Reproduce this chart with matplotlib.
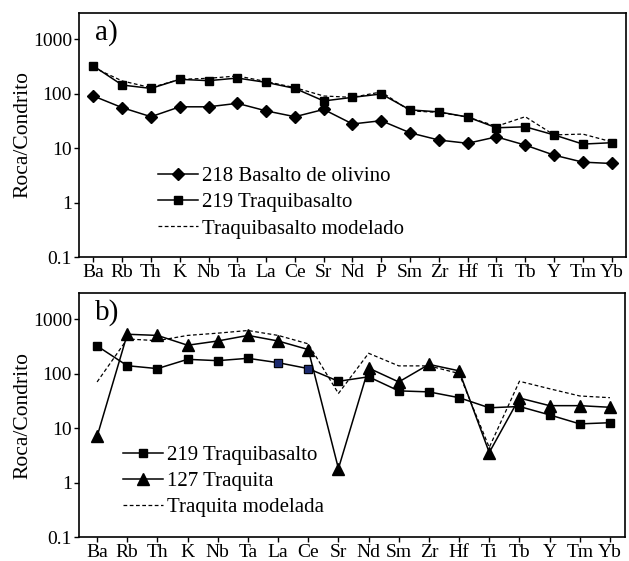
import numpy as np
import matplotlib
matplotlib.use('Agg')
import matplotlib.pyplot as plt
from matplotlib.lines import Line2D

plt.rcParams['font.family'] = ['Liberation Serif', 'DejaVu Serif']

# panel a
elem_a = ['Ba', 'Rb', 'Th', 'K', 'Nb', 'Ta', 'La', 'Ce', 'Sr', 'Nd', 'P',
          'Sm', 'Zr', 'Hf', 'Ti', 'Tb', 'Y', 'Tm', 'Yb']
basalto_218 = [90, 55, 37.5, 57, 57, 66, 48, 37.5, 51, 27.6, 31.7,
               19, 14, 12.2, 16, 11.3, 7.4, 5.5, 5.2]
traqbas_219_a = [320, 143, 124, 182, 172, 192, 160, 124, 73, 85, 98,
                 50, 46, 37, 23.5, 24.5, 17.4, 11.8, 12.5]
traqbas_mod = [300, 170, 128, 182, 190, 210, 166, 128, 90, 85, 107,
               48, 45, 37, 25, 37.5, 17.4, 18, 13]

# panel b
elem_b = ['Ba', 'Rb', 'Th', 'K', 'Nb', 'Ta', 'La', 'Ce', 'Sr', 'Nd',
          'Sm', 'Zr', 'Hf', 'Ti', 'Tb', 'Y', 'Tm', 'Yb']
traqbas_219_b = [320, 139, 123, 182, 172, 190, 158, 123, 72, 87,
                 48, 46, 36, 23.5, 24.8, 17.4, 11.9, 12.5]
traquita_127 = [7.0, 525, 500, 330, 395, 500, 395, 275, 1.8, 126,
                70, 147, 112, 3.55, 35.5, 25.7, 25.7, 24]
traquita_mod = [70, 430, 400, 500, 550, 615, 500, 350, 43, 235,
                138, 138, 100, 4.4, 72, 52.5, 38.7, 36]

yticks = [0.1, 1, 10, 100, 1000]
ylabels = ['0.1', '1', '10', '100', '1000']

fig = plt.figure(figsize=(6.29, 5.61), dpi=100)
ax1 = fig.add_axes([79/629, 1-257/561, 547/629, 244/561])
ax2 = fig.add_axes([79/629, 1-537/561, 546/629, 244/561])

lw = 1.1
xa = np.arange(len(elem_a))
ax1.plot(xa, traqbas_mod, '--', color='black', lw=0.9, dashes=(3, 2))
ax1.plot(xa, basalto_218, '-', color='black', lw=lw, marker='D', ms=6.5)
ax1.plot(xa, traqbas_219_a, '-', color='black', lw=lw, marker='s', ms=6)
ax1.set_xlim(-0.5, len(elem_a) - 0.5)
ax1.set_xticks(xa)
ax1.set_xticklabels(elem_a)

xb = np.arange(len(elem_b))
ax2.plot(xb, traquita_mod, '--', color='black', lw=0.9, dashes=(3, 2))
ax2.plot(xb, traqbas_219_b, '-', color='black', lw=lw, marker='s', ms=6)
# La and Ce squares look dark blue in the original
ax2.plot(xb[6:8], traqbas_219_b[6:8], 's', ms=6, color='#1c2a6e', mec='black', mew=0.6)
ax2.plot(xb, traquita_127, '-', color='black', lw=lw, marker='^', ms=8)
ax2.set_xlim(-0.6, len(elem_b) - 0.5)
ax2.set_xticks(xb)
ax2.set_xticklabels(elem_b)

for ax, lab in [(ax1, 'a)'), (ax2, 'b)')]:
    ax.set_yscale('log')
    ax.set_ylim(0.1, 3000)
    ax.set_yticks(yticks)
    ax.set_yticklabels(ylabels)
    ax.yaxis.set_minor_locator(matplotlib.ticker.NullLocator())
    ax.tick_params(axis='both', direction='out', length=3.5, width=1, labelsize=14, pad=1.5)
    ax.set_ylabel('Roca/Condrito', fontsize=15.5, labelpad=0)
    for s in ax.spines.values():
        s.set_linewidth(1.2)
    ax.text(0.03, 0.975, lab, transform=ax.transAxes, fontsize=21, va='top', ha='left')

h1 = [Line2D([], [], color='black', lw=lw, marker='D', ms=6.5),
      Line2D([], [], color='black', lw=lw, marker='s', ms=6),
      Line2D([], [], color='black', lw=0.9, ls='--', dashes=(3, 2))]
ax1.legend(h1, ['218 Basalto de olivino', '219 Traquibasalto', 'Traquibasalto modelado'],
           loc='upper left', bbox_to_anchor=(0.13, 0.405), frameon=False, fontsize=15,
           handlelength=1.9, handletextpad=0.2, labelspacing=0.32, borderaxespad=0)

h2 = [Line2D([], [], color='black', lw=lw, marker='s', ms=6),
      Line2D([], [], color='black', lw=lw, marker='^', ms=8),
      Line2D([], [], color='black', lw=0.9, ls='--', dashes=(3, 2))]
ax2.legend(h2, ['219 Traquibasalto', '127 Traquita', 'Traquita modelada'],
           loc='upper left', bbox_to_anchor=(0.066, 0.41), frameon=False, fontsize=15,
           handlelength=1.9, handletextpad=0.2, labelspacing=0.32, borderaxespad=0)

fig.savefig('out.png', dpi=100)
